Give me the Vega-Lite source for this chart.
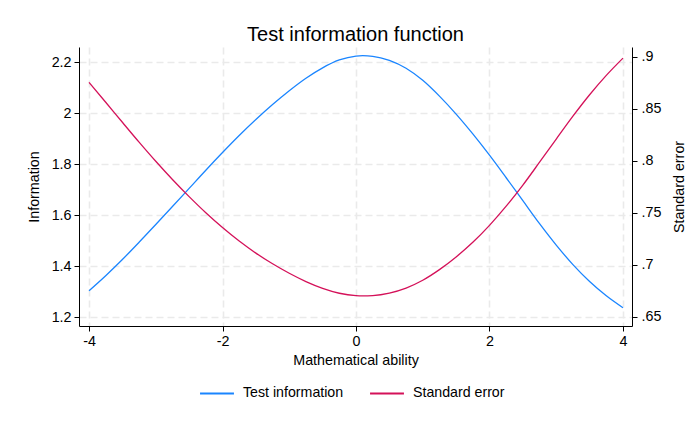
{
  "$schema": "https://vega.github.io/schema/vega-lite/v6.json",
  "width": 553,
  "height": 279,
  "autosize": {"type": "none"},
  "padding": {"left": 79, "top": 47, "right": 65, "bottom": 95},
  "background": "white",
  "config": {
    "font": "Liberation Sans",
    "view": {"stroke": null},
    "axis": {
      "labelFont": "Liberation Sans",
      "titleFont": "Liberation Sans",
      "labelFontSize": 14.3,
      "titleFontSize": 14.3,
      "titleFontWeight": "normal",
      "labelColor": "#000000",
      "titleColor": "#000000",
      "domainColor": "#000000",
      "tickColor": "#000000",
      "domainWidth": 1,
      "tickWidth": 1,
      "tickSize": 5,
      "gridColor": "#eaeaea",
      "gridWidth": 1.6,
      "gridDash": [7, 4]
    },
    "legend": {
      "labelFont": "Liberation Sans",
      "labelFontSize": 14.2,
      "labelColor": "#000000"
    }
  },
  "title": {
    "text": "Test information function",
    "font": "Liberation Sans",
    "fontSize": 20,
    "fontWeight": "normal",
    "color": "#000000",
    "anchor": "middle",
    "offset": 2
  },
  "data": {
    "values": [
      {"ability": -4.0, "info": 1.3043, "se": 0.8756},
      {"ability": -3.75, "info": 1.3633, "se": 0.8565},
      {"ability": -3.5, "info": 1.4267, "se": 0.8372},
      {"ability": -3.25, "info": 1.4943, "se": 0.8181},
      {"ability": -3.0, "info": 1.5638, "se": 0.7997},
      {"ability": -2.75, "info": 1.6344, "se": 0.7822},
      {"ability": -2.5, "info": 1.7056, "se": 0.7657},
      {"ability": -2.25, "info": 1.7769, "se": 0.7502},
      {"ability": -2.0, "info": 1.8461, "se": 0.736},
      {"ability": -1.75, "info": 1.9129, "se": 0.723},
      {"ability": -1.5, "info": 1.9757, "se": 0.7114},
      {"ability": -1.25, "info": 2.0345, "se": 0.7011},
      {"ability": -1.0, "info": 2.0886, "se": 0.692},
      {"ability": -0.75, "info": 2.1376, "se": 0.684},
      {"ability": -0.5, "info": 2.1784, "se": 0.6775},
      {"ability": -0.25, "info": 2.2092, "se": 0.6728},
      {"ability": 0.0, "info": 2.2244, "se": 0.6705},
      {"ability": 0.1, "info": 2.2258, "se": 0.6703},
      {"ability": 0.25, "info": 2.2236, "se": 0.6706},
      {"ability": 0.5, "info": 2.2077, "se": 0.673},
      {"ability": 0.75, "info": 2.1767, "se": 0.6778},
      {"ability": 1.0, "info": 2.1294, "se": 0.6853},
      {"ability": 1.25, "info": 2.0673, "se": 0.6955},
      {"ability": 1.5, "info": 1.9969, "se": 0.7077},
      {"ability": 1.75, "info": 1.9192, "se": 0.7218},
      {"ability": 2.0, "info": 1.8357, "se": 0.7381},
      {"ability": 2.25, "info": 1.7473, "se": 0.7565},
      {"ability": 2.5, "info": 1.6572, "se": 0.7768},
      {"ability": 2.75, "info": 1.5672, "se": 0.7988},
      {"ability": 3.0, "info": 1.4832, "se": 0.8211},
      {"ability": 3.25, "info": 1.4067, "se": 0.8431},
      {"ability": 3.5, "info": 1.3404, "se": 0.8637},
      {"ability": 3.75, "info": 1.2845, "se": 0.8823},
      {"ability": 4.0, "info": 1.2376, "se": 0.8989}
    ]
  },
  "encoding": {
    "x": {
      "field": "ability",
      "type": "quantitative",
      "scale": {"domain": [-4.15, 4.135], "nice": false, "zero": false},
      "axis": {
        "title": "Mathematical ability",
        "values": [-4, -2, 0, 2, 4],
        "labelExpr": "'' + datum.value",
        "grid": true,
        "labelPadding": 3,
        "titlePadding": 5
      }
    }
  },
  "layer": [
    {
      "mark": {"type": "line", "strokeWidth": 1.3, "interpolate": "monotone"},
      "encoding": {
        "y": {
          "field": "info",
          "type": "quantitative",
          "scale": {"domain": [1.166, 2.26], "nice": false, "zero": false},
          "axis": {
            "title": "Information",
            "orient": "left",
            "values": [1.2, 1.4, 1.6, 1.8, 2.0, 2.2],
            "labelExpr": "format(datum.value, '.1~f')",
            "grid": true,
            "labelPadding": 3,
            "titlePadding": 10
          }
        },
        "color": {
          "datum": "Test information",
          "type": "nominal",
          "scale": {
            "domain": ["Test information", "Standard error"],
            "range": ["#1a85ff", "#d41159"]
          },
          "legend": {
            "title": null,
            "orient": "none",
            "legendX": 120,
            "legendY": 328,
            "direction": "horizontal",
            "symbolType": "stroke",
            "symbolSize": 1150,
            "symbolStrokeWidth": 2,
            "labelOffset": 8,
            "columnPadding": 22
          }
        }
      }
    },
    {
      "mark": {"type": "line", "strokeWidth": 1.3, "interpolate": "monotone"},
      "encoding": {
        "y": {
          "field": "se",
          "type": "quantitative",
          "scale": {"domain": [0.6413, 0.9096], "nice": false, "zero": false},
          "axis": {
            "title": "Standard error",
            "orient": "right",
            "titleAngle": 270,
            "values": [0.65, 0.7, 0.75, 0.8, 0.85, 0.9],
            "labelExpr": "replace(format(datum.value, '.2~f'), '0.', '.')",
            "grid": false,
            "labelPadding": 4,
            "titlePadding": 26
          }
        },
        "color": {"datum": "Standard error", "type": "nominal"}
      }
    }
  ],
  "resolve": {"scale": {"y": "independent"}}
}
